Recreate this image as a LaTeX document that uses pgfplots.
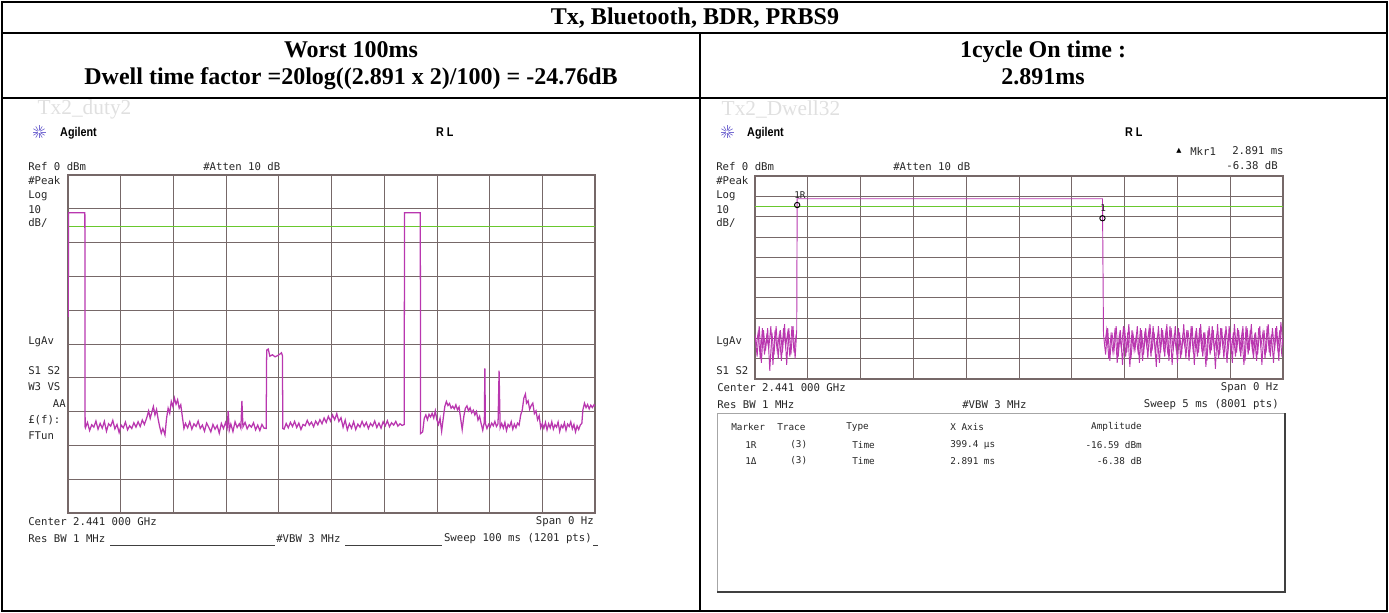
\documentclass[border=0pt]{standalone}
\usepackage{fontspec}
\setmainfont{Liberation Serif}
\newfontfamily\inst{DejaVu Sans Mono}
\newfontfamily\arial{Liberation Sans}
\newfontfamily\djs{DejaVu Sans}
\usepackage{pgfplots}
\pgfplotsset{compat=1.18}

\definecolor{gridc}{RGB}{118,104,104}
\definecolor{trace}{RGB}{185,55,175}
\definecolor{dline}{RGB}{105,200,45}
\definecolor{logoc}{RGB}{120,110,210}

% spectrum analyser screen: 10 x 10 graticule, no tick labels
\pgfplotsset{sa/.style={
  scale only axis, anchor=south west,
  axis line style={gridc, line width=1.1pt},
  grid=major, major grid style={gridc, line width=0.6pt},
  xticklabels={}, yticklabels={}, major tick length=0pt,
  ymin=-100, ymax=0, ytick={-100,-90,...,0},
  unbounded coords=jump}}

\begin{document}
\begin{tikzpicture}
\begin{scope}[x=0.75pt,y=-0.75pt]
  \useasboundingbox (0,0) rectangle (1389,613);
  \coordinate (A) at (68,513);
  \coordinate (B) at (755,379);
\end{scope}

% ---- left screen: 100 ms sweep
\begin{axis}[sa, at={(A)}, width=395.25pt, height=253.5pt,
  xmin=0, xmax=100, xtick={0,10,...,100}]
\addplot[dline, line width=0.8pt] coordinates {(0,-15.1) (100,-15.1)};
\addplot[trace, line width=0.95pt] coordinates {
 (0.05,-42) (0.1,-11.2) (3.2,-11.2) (3.25,-74.5)
 (3.3,-74.8) (3.7,-73.2) (4.1,-75.6) (4.5,-73.9) (4.9,-74.6) (5.3,-72.8) (5.7,-75.2) (6.1,-73.5)
 (6.5,-74.9) (6.9,-72.9) (7.3,-75.8) (7.7,-73.6) (8.1,-74.3) (8.5,-72.6) (8.9,-75.1) (9.3,-73.8)
 (9.7,-76.2) (10.1,-74.0) (10.5,-74.8) (10.9,-73.1) (11.3,-75.4) (11.7,-74.2) (12.1,-75.0) (12.5,-73.3)
 (12.9,-74.6) (13.3,-73.0) (13.7,-74.4) (14.1,-72.5) (14.5,-73.8)
 (15.0,-71.5) (15.3,-69.8) (15.6,-72.0) (15.9,-70.2) (16.2,-68.5) (16.5,-71.0) (16.8,-69.4) (17.1,-72.2)
 (17.4,-74.5) (17.7,-76.4) (18.0,-75.0) (18.4,-76.9) (18.7,-72.0) (19.0,-69.0) (19.3,-70.5) (19.6,-67.0)
 (19.9,-68.5) (20.2,-66.0) (20.5,-67.8) (20.8,-66.5) (21.1,-69.0) (21.4,-68.0) (21.7,-71.5) (22.0,-75.0)
 (22.3,-73.5) (22.7,-74.8) (23.1,-73.0) (23.5,-75.2) (23.9,-73.6) (24.3,-74.4) (24.7,-72.8) (25.1,-75.0)
 (25.5,-74.0) (25.9,-75.8) (26.3,-73.4) (26.7,-74.6) (27.1,-76.0) (27.5,-73.8) (27.9,-75.2) (28.3,-74.1)
 (28.7,-76.4) (29.1,-73.5) (29.5,-75.0) (29.9,-73.2) (30.2,-74.8) (30.4,-69.8) (30.6,-75.5) (30.9,-73.7)
 (31.3,-75.9) (31.7,-73.0) (32.1,-74.7) (32.5,-73.6) (32.8,-74.9) (33.0,-66.8) (33.2,-74.5) (33.6,-73.2)
 (34.0,-75.1) (34.4,-73.9) (34.8,-74.6) (35.2,-73.3) (35.6,-75.4) (36.0,-74.0) (36.4,-75.6) (36.8,-73.8)
 (37.2,-74.9) (37.6,-75.0)
 (37.7,-51.8) (38.0,-51.5) (38.3,-53.6) (38.8,-53.2) (39.3,-53.8) (39.8,-53.4) (40.2,-53.0) (40.5,-52.6)
 (40.7,-53.5) (40.75,-75.0)
 (41.0,-75.2) (41.4,-73.5) (41.8,-74.8) (42.2,-73.2) (42.6,-74.4) (43.0,-72.9) (43.4,-74.7) (43.8,-73.4)
 (44.2,-75.3) (44.6,-73.8) (45.0,-74.2) (45.4,-72.6) (45.8,-74.0) (46.2,-73.1) (46.6,-74.5) (47.0,-72.8)
 (47.4,-73.9) (47.8,-72.4) (48.2,-73.6) (48.6,-71.9) (49.0,-73.2) (49.4,-71.4) (49.8,-72.8) (50.2,-71.0)
 (50.6,-72.4) (51.0,-70.6) (51.4,-72.9) (51.8,-71.8) (52.2,-74.6) (52.6,-72.5) (53.0,-75.4) (53.4,-73.6)
 (53.8,-74.9) (54.2,-73.0) (54.6,-75.3) (55.0,-73.7) (55.4,-74.6) (55.8,-72.9) (56.2,-74.4) (56.6,-73.2)
 (57.0,-75.0) (57.4,-73.5) (57.8,-74.3) (58.2,-72.8) (58.6,-74.7) (59.0,-73.4) (59.4,-74.9) (59.8,-73.0)
 (60.2,-74.2) (60.6,-72.7) (61.0,-74.5) (61.4,-73.3) (61.8,-74.0) (62.2,-72.9) (62.6,-74.3) (63.0,-73.6)
 (63.4,-74.1) (63.8,-73.8)
 (63.85,-11.2) (66.85,-11.2) (66.9,-76.5)
 (67.3,-76.0) (67.6,-72.0) (67.9,-71.0) (68.2,-72.4) (68.5,-70.8) (68.8,-71.6) (69.1,-70.5) (69.4,-71.9)
 (69.7,-69.8) (70.0,-72.5) (70.3,-73.8) (70.6,-72.0) (70.9,-75.8) (71.2,-72.0) (71.5,-68.5) (71.8,-67.0)
 (72.1,-68.2) (72.4,-67.6) (72.7,-69.0) (73.0,-68.4) (73.3,-69.2) (73.6,-68.0) (73.9,-69.5) (74.2,-68.6)
 (74.5,-72.0) (74.8,-75.3) (75.1,-71.5) (75.4,-69.0) (75.7,-68.3) (76.0,-69.8) (76.3,-68.9) (76.6,-70.4)
 (76.9,-69.6) (77.2,-71.0) (77.5,-70.0) (77.8,-72.5) (78.1,-71.4) (78.4,-73.6) (78.7,-75.5)
 (79.0,-73.0) (79.1,-57.2) (79.2,-73.5) (79.5,-75.0) (79.8,-73.8) (80.1,-74.6) (80.4,-73.4) (80.7,-74.2)
 (81.0,-72.9) (81.3,-74.4) (81.6,-73.6) (81.8,-57.9) (82.0,-74.8) (82.3,-73.5) (82.6,-74.9) (82.9,-73.2)
 (83.2,-75.6) (83.5,-73.8) (83.8,-74.5) (84.1,-73.0) (84.4,-75.2) (84.7,-73.7) (85.0,-74.8) (85.3,-73.4)
 (85.6,-74.0) (85.9,-71.0) (86.2,-69.5) (86.5,-66.0) (86.8,-64.8) (87.0,-67.5) (87.3,-66.8) (87.6,-69.3)
 (87.9,-68.2) (88.2,-67.5) (88.5,-70.6) (88.8,-69.8) (89.1,-72.4) (89.4,-71.2) (89.7,-74.8) (90.0,-73.5)
 (90.3,-74.9) (90.6,-73.2) (90.9,-75.4) (91.2,-73.6) (91.5,-74.8) (91.8,-73.0) (92.1,-75.2) (92.4,-73.9)
 (92.7,-74.6) (93.0,-73.1) (93.3,-75.9) (93.6,-74.0) (93.9,-74.8) (94.2,-73.3) (94.5,-75.5) (94.8,-73.7)
 (95.1,-74.4) (95.4,-73.0) (95.7,-75.1) (96.0,-73.8) (96.3,-76.0) (96.6,-74.2) (96.9,-75.3) (97.2,-74.0)
 (97.5,-73.5) (97.7,-69.5) (98.0,-67.5) (98.3,-68.8) (98.6,-67.9) (98.9,-69.2) (99.2,-68.1) (99.5,-68.8)
 (99.8,-68.0) (100,-68.4)
};
\end{axis}

% ---- right screen: 5 ms sweep, one burst
\begin{axis}[sa, at={(B)}, width=396pt, height=152.25pt,
  xmin=0, xmax=5, xtick={0,0.5,...,5}]
\addplot[dline, line width=0.8pt] coordinates {(0,-14.8) (5,-14.8)};
\addplot[trace, line width=0.7pt] coordinates {
 (0.00,-78) (0.02,-89) (0.04,-74) (0.06,-92) (0.08,-76) (0.10,-86) (0.12,-75) (0.14,-96)
 (0.16,-77) (0.18,-88) (0.20,-74) (0.22,-90) (0.24,-76) (0.26,-87) (0.28,-73) (0.30,-93)
 (0.32,-75) (0.34,-88) (0.36,-74) (0.38,-90) (0.395,-76)
 (0.3994,-11.2) (3.2904,-11.2)
 (3.30,-78) (3.32,-88) (3.34,-75) (3.36,-91) (3.38,-77) (3.40,-86) (3.42,-74) (3.44,-89)
 (3.46,-76) (3.48,-93) (3.50,-75) (3.52,-87) (3.54,-73) (3.56,-90) (3.58,-78) (3.60,-85)
 (3.62,-74) (3.64,-92) (3.66,-76) (3.68,-88) (3.70,-75) (3.72,-90) (3.74,-73) (3.76,-86)
 (3.78,-77) (3.80,-94) (3.82,-74) (3.84,-87) (3.86,-76) (3.88,-89) (3.90,-73) (3.92,-91)
 (3.94,-75) (3.96,-86) (3.98,-74) (4.00,-92) (4.02,-77) (4.04,-88) (4.06,-73) (4.08,-90)
 (4.10,-76) (4.12,-85) (4.14,-74) (4.16,-93) (4.18,-75) (4.20,-87) (4.22,-73) (4.24,-89)
 (4.26,-77) (4.28,-91) (4.30,-74) (4.32,-86) (4.34,-76) (4.36,-95) (4.38,-73) (4.40,-88)
 (4.42,-75) (4.44,-90) (4.46,-74) (4.48,-86) (4.50,-77) (4.52,-92) (4.54,-73) (4.56,-87)
 (4.58,-76) (4.60,-89) (4.62,-74) (4.64,-91) (4.66,-75) (4.68,-86) (4.70,-73) (4.72,-90)
 (4.74,-77) (4.76,-88) (4.78,-74) (4.80,-93) (4.82,-76) (4.84,-87) (4.86,-73) (4.88,-89)
 (4.90,-75) (4.92,-86) (4.94,-74) (4.96,-91) (4.98,-72) (5.00,-84)
};
% interleaved samples of the noise floor (8001-point sweep is denser)
\addplot[trace, line width=0.7pt] coordinates {
 (0.01,-84) (0.03,-77) (0.05,-90) (0.07,-75) (0.09,-88) (0.11,-79) (0.13,-85) (0.15,-74)
 (0.17,-93) (0.19,-76) (0.21,-86) (0.23,-78) (0.25,-91) (0.27,-75) (0.29,-84) (0.31,-77)
 (0.33,-89) (0.35,-74) (0.37,-87) (0.39,-78) (1,nan)
 (3.31,-84) (3.33,-76) (3.35,-90) (3.37,-79) (3.39,-87) (3.41,-75) (3.43,-92) (3.45,-78)
 (3.47,-85) (3.49,-74) (3.51,-89) (3.53,-77) (3.55,-94) (3.57,-76) (3.59,-86) (3.61,-79)
 (3.63,-88) (3.65,-75) (3.67,-91) (3.69,-78) (3.71,-84) (3.73,-76) (3.75,-89) (3.77,-74)
 (3.79,-87) (3.81,-79) (3.83,-92) (3.85,-75) (3.87,-85) (3.89,-77) (3.91,-88) (3.93,-74)
 (3.95,-93) (3.97,-78) (3.99,-86) (4.01,-75) (4.03,-90) (4.05,-79) (4.07,-84) (4.09,-76)
 (4.11,-91) (4.13,-74) (4.15,-87) (4.17,-78) (4.19,-89) (4.21,-75) (4.23,-85) (4.25,-77)
 (4.27,-94) (4.29,-76) (4.31,-88) (4.33,-74) (4.35,-86) (4.37,-79) (4.39,-90) (4.41,-75)
 (4.43,-84) (4.45,-78) (4.47,-92) (4.49,-74) (4.51,-87) (4.53,-77) (4.55,-89) (4.57,-75)
 (4.59,-85) (4.61,-78) (4.63,-93) (4.65,-74) (4.67,-88) (4.69,-76) (4.71,-86) (4.73,-79)
 (4.75,-91) (4.77,-75) (4.79,-84) (4.81,-77) (4.83,-90) (4.85,-74) (4.87,-87) (4.89,-78)
 (4.91,-92) (4.93,-75) (4.95,-85) (4.97,-76) (4.99,-89)
};
% markers 1R and 1 delta
\addplot[only marks, black, mark=o, mark size=2pt, line width=0.7pt]
  coordinates {(0.3994,-14.3) (3.2904,-20.8)};
\end{axis}

\begin{scope}[x=0.75pt,y=-0.75pt]
% table frame
\draw[line width=2.2pt] (2,2) rectangle (1387,611);
\draw[line width=1.8pt] (2,33) -- (1387,33) (2,98) -- (1387,98) (700,33) -- (700,611);

% header texts
\tikzset{hd/.style={anchor=base, font=\fontsize{18}{21}\selectfont\bfseries, inner sep=0pt}}
\node[hd] at (695,25) {Tx, Bluetooth, BDR, PRBS9};
\node[hd] at (351,58) {Worst 100ms};
\node[hd] at (351,85) {Dwell time factor =20log((2.891 x 2)/100) = -24.76dB};
\node[hd] at (1043,58) {1cycle On time :};
\node[hd] at (1043,85) {2.891ms};
\node[anchor=west, text=black!12, font=\fontsize{16}{18}\selectfont] at (33,109) {Tx2\_duty2};
\node[anchor=west, text=black!12, font=\fontsize{16}{18}\selectfont] at (717,109) {Tx2\_Dwell32};

% logos and top labels
\foreach \cx in {39,727} {
  \foreach \a in {0,30,...,330}
    \draw[logoc, line width=0.5pt] (\cx,132) ++(\a:1.5) -- ++(\a:5);
}
\tikzset{ag/.style={anchor=west, font=\arial\bfseries\fontsize{9.5}{10}\selectfont, inner sep=0pt, xscale=0.85}}
\node[ag] at (60,133) {Agilent};
\node[ag] at (747,133) {Agilent};
\node[ag] at (436,132) {R L};
\node[ag] at (1125,132) {R L};

\tikzset{it/.style={anchor=west, font=\inst\fontsize{8}{9}\selectfont, inner sep=0pt, text=black!85},
         ie/.style={it, anchor=east},
         tb/.style={it, font=\inst\fontsize{7}{8}\selectfont},
         te/.style={tb, anchor=east}}
% left screen annotations
\node[it] at (28,167) {Ref 0 dBm};
\node[it] at (203,167) {\#Atten 10 dB};
\node[it] at (28,181) {\#Peak};
\node[it] at (28,196) {Log};
\node[it] at (28,210) {10};
\node[it] at (28,223) {dB/};
\node[it] at (28,342) {LgAv};
\node[it] at (28,371) {S1 S2};
\node[it] at (28,387) {W3 VS};
\node[ie] at (66,404) {AA};
\node[it] at (28,420) {£(f):};
\node[it] at (28,436) {FTun};
\node[it] at (28,522) {Center 2.441 000 GHz};
\node[ie] at (594,522) {Span 0 Hz};
\node[it] at (28,539) {Res BW 1 MHz};
\node[it] at (276,539) {\#VBW 3 MHz};
\node[ie] at (592,539) {Sweep 100 ms (1201 pts)};
\draw[black!75, line width=0.6pt] (110,545) -- (275,545) (345,545) -- (442,545) (593,545) -- (598,545);

% right screen annotations
\node[it] at (716,167) {Ref 0 dBm};
\node[it] at (893,167) {\#Atten 10 dB};
\node[it] at (716,181) {\#Peak};
\node[it] at (716,196) {Log};
\node[it] at (716,210) {10};
\node[it] at (716,223) {dB/};
\node[it] at (716,342) {LgAv};
\node[it] at (716,371) {S1 S2};
\node[anchor=west, font=\djs\fontsize{5}{6}\selectfont, inner sep=0pt] at (1176,151) {▲};
\node[it] at (1190,151) {Mkr1};
\node[it] at (1232,151) {2.891 ms};
\node[ie] at (1278,166) {-6.38 dB};
\node[tb] at (794,195) {1R};
\node[tb] at (1100,208) {1};
\node[it] at (717,388) {Center 2.441 000 GHz};
\node[ie] at (1279,388) {Span 0 Hz};
\node[it] at (717,405) {Res BW 1 MHz};
\node[it] at (962,405) {\#VBW 3 MHz};
\node[ie] at (1279,405) {Sweep 5 ms (8001 pts)};

% marker table
\draw[black!35, line width=0.6pt] (717,592) -- (717,413) -- (1285,413);
\draw[black!75, line width=1.5pt] (717,592) -- (1285,592) -- (1285,413);
\node[tb] at (731,427) {Marker};
\node[tb] at (777,427) {Trace};
\node[tb] at (846,427) {Type};
\node[tb] at (950,427) {X Axis};
\node[te] at (1142,427) {Amplitude};
\node[tb] at (745,445) {1R};
\node[tb] at (790,445) {(3)};
\node[tb] at (852,445) {Time};
\node[tb] at (950,445) {399.4 µs};
\node[te] at (1142,445) {-16.59 dBm};
\node[tb] at (745,461) {1Δ};
\node[tb] at (790,461) {(3)};
\node[tb] at (852,461) {Time};
\node[tb] at (950,461) {2.891 ms};
\node[te] at (1142,461) {-6.38 dB};
\end{scope}
\end{tikzpicture}
\end{document}
